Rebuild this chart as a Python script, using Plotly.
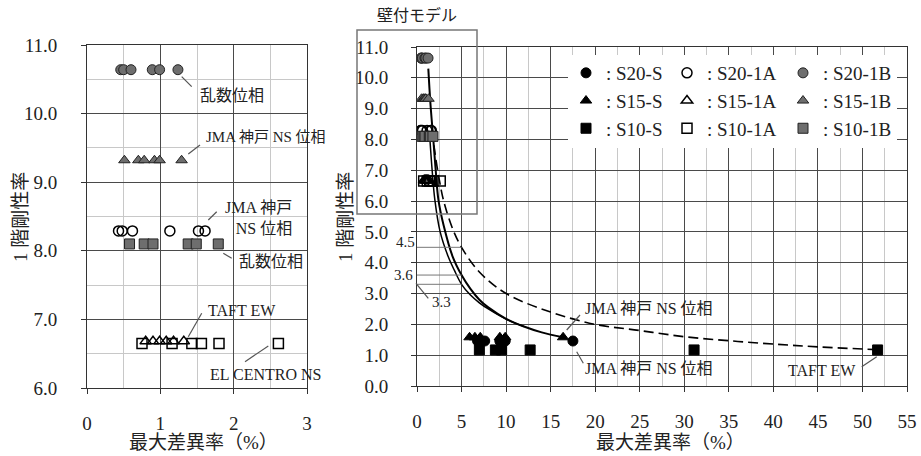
import plotly.graph_objects as go

# ---------------- data ----------------
# wall-attached model series (shown in both panels)
s20_1b_x = [0.46, 0.50, 0.60, 0.89, 0.99, 1.24]
s20_1b_y = [10.64, 10.64, 10.64, 10.64, 10.64, 10.64]
s15_1b_x = [0.51, 0.70, 0.78, 0.92, 0.99, 1.29]
s15_1b_y = [9.32, 9.32, 9.32, 9.32, 9.32, 9.32]
s20_1a_x = [0.43, 0.48, 0.62, 1.13, 1.52, 1.61]
s20_1a_y = [8.29, 8.29, 8.29, 8.29, 8.29, 8.29]
s10_1b_x = [0.58, 0.78, 0.90, 1.38, 1.49, 1.79]
s10_1b_y = [8.10, 8.10, 8.10, 8.10, 8.10, 8.10]
s15_1a_x = [0.80, 0.90, 0.99, 1.08, 1.18, 1.32]
s15_1a_y = [6.68, 6.68, 6.68, 6.68, 6.68, 6.68]
s10_1a_x = [0.75, 1.16, 1.43, 1.56, 1.80, 2.61]
s10_1a_y = [6.65, 6.65, 6.65, 6.65, 6.65, 6.65]
# S series (right panel only)
s20_s_x = [6.8, 7.2, 7.6, 9.3, 9.9, 17.5]
s20_s_y = [1.46, 1.46, 1.46, 1.46, 1.46, 1.46]
s15_s_x = [5.9, 6.5, 7.1, 9.3, 9.9, 16.4]
s15_s_y = [1.58, 1.58, 1.58, 1.58, 1.58, 1.58]
s10_s_x = [7.0, 8.8, 9.5, 12.7, 31.1, 51.7]
s10_s_y = [1.17, 1.17, 1.17, 1.17, 1.17, 1.17]

# trend curves
curve_a_x = [1.27, 1.5, 1.83, 2.1, 2.4, 3.0, 4.0, 5.0, 6.0, 7.0, 8.0, 10.0, 12.0, 14.0, 16.4]
curve_a_y = [10.3, 9.2, 8.0, 7.0, 6.05, 5.2, 4.2, 3.6, 3.15, 2.8, 2.55, 2.18, 1.93, 1.74, 1.58]
curve_b_x = [1.45, 1.7, 2.0, 2.6, 3.5, 4.2, 5.0, 6.0, 7.0, 8.0, 10.0, 12.0]
curve_b_y = [8.0, 7.0, 6.05, 5.0, 4.2, 3.75, 3.3, 2.95, 2.7, 2.5, 2.17, 1.93]
curve_c_x = [1.7, 2.0, 2.5, 3.0, 4.0, 5.0, 7.0, 10.0, 15.0, 20.0, 25.0, 30.0, 35.0, 40.0, 45.0, 51.5]
curve_c_y = [8.3, 7.6, 6.7, 6.0, 5.1, 4.5, 3.7, 3.0, 2.4, 2.0, 1.8, 1.6, 1.47, 1.36, 1.27, 1.18]

ref_levels = [4.5, 3.6, 3.3]
ref_x_end = 5

left_xticks = [0, 1, 2, 3]
left_yticks = [6.0, 7.0, 8.0, 9.0, 10.0, 11.0]
right_xticks = [0, 5, 10, 15, 20, 25, 30, 35, 40, 45, 50, 55]
right_yticks = [0.0, 1.0, 2.0, 3.0, 4.0, 5.0, 6.0, 7.0, 8.0, 9.0, 10.0, 11.0]

# ---------------- layout helpers ----------------
W, H = 921, 456
def px(x):
    return x / W
def py(y):
    return 1 - y / H

SERIF = "'Liberation Serif', 'Times New Roman', 'Noto Sans CJK JP', serif"
MAJOR = "#4a4a4a"
MINOR = "#c8c8c8"
GRAY = "#6e6e6e"

fig = go.Figure()

styles = {
    "S20-S": dict(symbol="circle", size=10, color="black", line=dict(color="black", width=1)),
    "S20-1A": dict(symbol="circle-open", size=10, color="black", line=dict(color="black", width=1.5)),
    "S20-1B": dict(symbol="circle", size=10, color=GRAY, line=dict(color="#222", width=1)),
    "S15-S": dict(symbol="triangle-up", size=10, color="black", line=dict(color="black", width=1)),
    "S15-1A": dict(symbol="triangle-up-open", size=10, color="black", line=dict(color="black", width=1.5)),
    "S15-1B": dict(symbol="triangle-up", size=10, color=GRAY, line=dict(color="#222", width=1)),
    "S10-S": dict(symbol="square", size=10, color="black", line=dict(color="black", width=1)),
    "S10-1A": dict(symbol="square-open", size=10, color="black", line=dict(color="black", width=1.5)),
    "S10-1B": dict(symbol="square", size=10, color=GRAY, line=dict(color="#222", width=1)),
}
series = {
    "S20-S": (s20_s_x, s20_s_y, False, "legend"),
    "S15-S": (s15_s_x, s15_s_y, False, "legend"),
    "S10-S": (s10_s_x, s10_s_y, False, "legend"),
    "S20-1A": (s20_1a_x, s20_1a_y, True, "legend2"),
    "S15-1A": (s15_1a_x, s15_1a_y, True, "legend2"),
    "S10-1A": (s10_1a_x, s10_1a_y, True, "legend2"),
    "S20-1B": (s20_1b_x, s20_1b_y, True, "legend3"),
    "S15-1B": (s15_1b_x, s15_1b_y, True, "legend3"),
    "S10-1B": (s10_1b_x, s10_1b_y, True, "legend3"),
}

# curves (right panel)
fig.add_trace(go.Scatter(x=curve_c_x, y=curve_c_y, mode="lines", xaxis="x2", yaxis="y2",
                         line=dict(color="black", width=1.6, dash="10px,5px", shape="spline"),
                         showlegend=False, hoverinfo="skip"))
fig.add_trace(go.Scatter(x=curve_b_x, y=curve_b_y, mode="lines", xaxis="x2", yaxis="y2",
                         line=dict(color="black", width=1.5, shape="spline"),
                         showlegend=False, hoverinfo="skip"))
fig.add_trace(go.Scatter(x=curve_a_x, y=curve_a_y, mode="lines", xaxis="x2", yaxis="y2",
                         line=dict(color="black", width=2, shape="spline"),
                         showlegend=False, hoverinfo="skip"))

for name, (xs, ys, in_left, leg) in series.items():
    st = styles[name]
    mk = dict(symbol=st["symbol"], size=st["size"], color=st["color"], line=st["line"])
    if in_left:
        fig.add_trace(go.Scatter(x=xs, y=ys, mode="markers", marker=mk, xaxis="x", yaxis="y",
                                 showlegend=False, name=name))
    fig.add_trace(go.Scatter(x=xs, y=ys, mode="markers", marker=mk, xaxis="x2", yaxis="y2",
                             showlegend=True, legend=leg, name=": " + name))

axis_common = dict(
    showline=True, mirror=True, linecolor="#333", linewidth=1,
    ticks="outside", ticklen=5, tickcolor="#333", automargin=False,
    showgrid=True, gridcolor=MAJOR, gridwidth=1, zeroline=False, ticklabeloverflow="allow",
    tickfont=dict(family=SERIF, size=19, color="#222"),
)

fig.update_layout(
    template="none",
    width=W, height=H, margin=dict(l=0, r=0, t=0, b=0, autoexpand=False),
    paper_bgcolor="white", plot_bgcolor="white",
    font=dict(family=SERIF, color="#222"),
    xaxis=dict(domain=[px(87), px(307)], range=[0, 3], tickvals=left_xticks, ticktext=[str(v) for v in left_xticks],
               minor=dict(dtick=0.5, showgrid=True, gridcolor=MINOR, gridwidth=1), ticklabelstandoff=13, anchor="y", **axis_common),
    yaxis=dict(domain=[py(388), py(45)], range=[6, 11], tickvals=left_yticks, ticktext=[f"{v:.1f}" for v in left_yticks],
               minor=dict(dtick=0.5, showgrid=True, gridcolor=MINOR, gridwidth=1), ticklabelstandoff=20, anchor="x", **axis_common),
    xaxis2=dict(domain=[px(417), px(907)], range=[0, 55], tickvals=right_xticks, ticktext=[str(v) for v in right_xticks],
                minor=dict(dtick=2.5, showgrid=True, gridcolor=MINOR, gridwidth=1), ticklabelstandoff=13, anchor="y2", **axis_common),
    yaxis2=dict(domain=[py(386), py(47)], range=[0, 11], tickvals=right_yticks, ticktext=[f"{v:.1f}" for v in right_yticks],
                ticklabelstandoff=19, anchor="x2", **axis_common),
)

leg_common = dict(bgcolor="rgba(255,255,255,0)", borderwidth=0, xanchor="left", yanchor="top",
                  font=dict(family=SERIF, size=19, color="#222"), tracegroupgap=0, itemclick=False)
fig.update_layout(
    legend=dict(x=px(566), y=py(54), **leg_common),
    legend2=dict(x=px(667), y=py(54), **leg_common),
    legend3=dict(x=px(783), y=py(54), **leg_common),
)

shapes = []
# white backing for legend
shapes.append(dict(type="rect", xref="paper", yref="paper", x0=px(568), x1=px(897), y0=py(148), y1=py(55),
                   fillcolor="white", line=dict(width=0), layer="above"))
# wall model frame
shapes.append(dict(type="rect", xref="paper", yref="paper", x0=px(357), x1=px(477), y0=py(214), y1=py(30),
                   fillcolor="rgba(0,0,0,0)", line=dict(color="#777", width=1.5), layer="above"))
# reference lines
for lv in ref_levels:
    shapes.append(dict(type="line", xref="x2", yref="y2", x0=0, x1=ref_x_end, y0=lv, y1=lv,
                       line=dict(color="#777", width=1), layer="above"))
# leader lines (pixel endpoints)
leaders = [
    ((181.7, 76.7), (191.7, 86.7)),
    ((188.3, 154), (200, 145)),
    ((208.3, 220), (216.7, 211.7)),
    ((223.3, 253.3), (231.7, 258.3)),
    ((188.3, 336.7), (201.7, 313.3)),
    ((268.3, 346), (245, 361.7)),
    ((416, 283.3), (428.3, 298.3)),
    ((566.7, 330), (580, 315)),
    ((576.7, 351.7), (583.3, 363.3)),
    ((861.7, 366.7), (876.7, 356.7)),
]
for (a, b) in leaders:
    shapes.append(dict(type="line", xref="paper", yref="paper", x0=px(a[0]), y0=py(a[1]), x1=px(b[0]), y1=py(b[1]),
                       line=dict(color="#555", width=1.2), layer="above"))
fig.update_layout(shapes=shapes)

ann = []
def text(x, y, s, size=16, xanchor="center", angle=0, align="center"):
    ann.append(dict(x=px(x), y=py(y), xref="paper", yref="paper", text=s, showarrow=False,
                    xanchor=xanchor, yanchor="middle", textangle=angle, align=align,
                    font=dict(family=SERIF, size=size, color="#222")))

text(231.7, 95, "乱数位相")
text(204, 137, "JMA 神戸 NS 位相", size=15, xanchor="left")
text(294, 218, "JMA 神戸<br>NS 位相", xanchor="right", align="right")
text(270.8, 261, "乱数位相")
text(241.7, 310, "TAFT EW")
text(208, 374, "EL CENTRO NS", xanchor="left")
text(416.7, 15, "壁付モデル", size=16)
text(405, 242, "4.5", size=15)
text(403, 275, "3.6", size=15)
text(441.7, 302, "3.3", size=15)
text(583, 308, "JMA 神戸 NS 位相", xanchor="left")
text(583, 368, "JMA 神戸 NS 位相", xanchor="left")
text(821.7, 370, "TAFT EW")
# axis titles
text(203, 442, "最大差異率（%）", size=19)
text(670, 442, "最大差異率（%）", size=19)
text(20, 217, "1 階剛性率", size=19, angle=-90)
text(345, 217, "1 階剛性率", size=19, angle=-90)
fig.update_layout(annotations=ann)

# place the figure flush with the window corner (no default page margin), no toolbar
fig.write_html("out.html",
               config={"displayModeBar": False},
               post_script="document.body.style.margin='0';document.body.style.overflow='hidden';")
